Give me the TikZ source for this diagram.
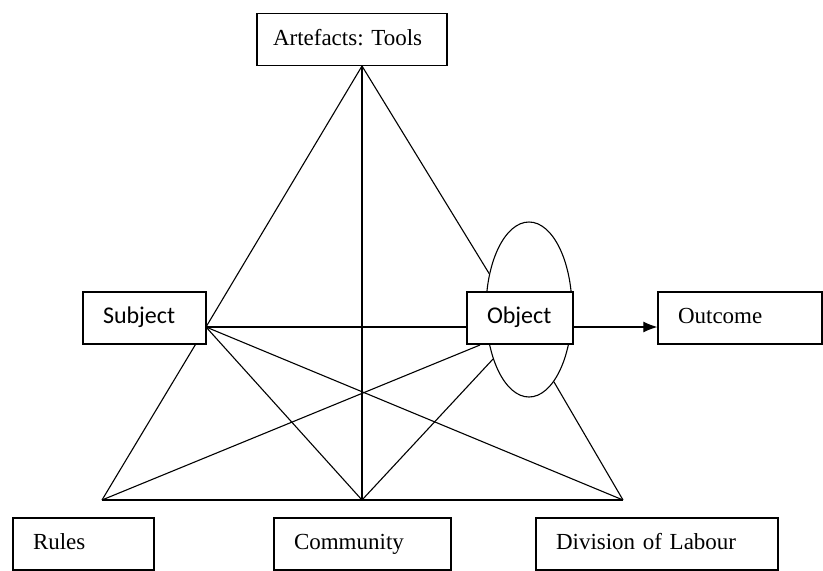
\documentclass[tikz,border=0pt]{standalone}
\usepackage{fontspec}
\setmainfont{Liberation Serif}
\newfontfamily\calfont{Carlito}
\usetikzlibrary{arrows.meta,shapes.geometric,positioning}
\frenchspacing
\tikzset{
  box/.style={draw, fill=white, line width=1.3pt, inner xsep=20pt, inner ysep=0pt,
    minimum height=52pt, text height=16pt, text depth=5pt, align=left,
    font=\fontsize{23}{26}\selectfont},
  sansbox/.style={box, font=\calfont\fontsize{24}{26}\selectfont},
  link/.style={line width=1.1pt},
}
\begin{document}
\begin{tikzpicture}[x=1pt,y=-1pt]
	\useasboundingbox (0,0) rectangle (823,571);
	% corners of the triangle
	\coordinate (apex) at (362,66);
	\coordinate (subj) at (206,327);
	\coordinate (rulesPt) at (102,500);
	\coordinate (commPt) at (362,500);
	\coordinate (divPt) at (623,500);
	\coordinate (objFoot) at (480,345);
	\node[draw, ellipse, line width=1.1pt, minimum width=86pt, minimum height=175pt, inner sep=0pt] (ring) at (529,309.5) {};
	\draw[link] (apex) -- (subj);
	\draw[link] (apex) -- (commPt);
	\draw[link] (apex) -- (ring.138);
	\draw[link] (subj) -- (rulesPt);
	\draw[link] (subj) -- (commPt);
	\draw[link] (subj) -- (divPt);
	\draw[link] (rulesPt) -- (divPt);
	\draw[link] (rulesPt) -- (objFoot);
	\draw[link] (commPt) -- (ring.234);
	\draw[link] (divPt) -- (ring.289);
	% boxes
	\node[box, inner xsep=16pt, text width=158pt] (tools) at (352,39.5) {Artefacts: Tools};
	\node[sansbox, text width=83pt] (subject) at (144.5,318) {Subject};
	\node[sansbox, text width=66pt] (object) at (520,318) {Object};
	\node[box, text width=124pt] (outcome) at (740,318) {Outcome};
	\node[box, text width=101pt] (rules) at (83.5,544) {Rules};
	\node[box, text width=137pt] (community) at (362.5,544) {Community};
	\node[box, text width=202pt] (division) at (657,544) {Division of Labour};
	\draw[link] (subj) -- (object.west |- subj);
	\draw[link, -{Latex[length=14pt,width=11pt]}] (object.east |- subj) -- (outcome.west |- subj);
\end{tikzpicture}
\end{document}
